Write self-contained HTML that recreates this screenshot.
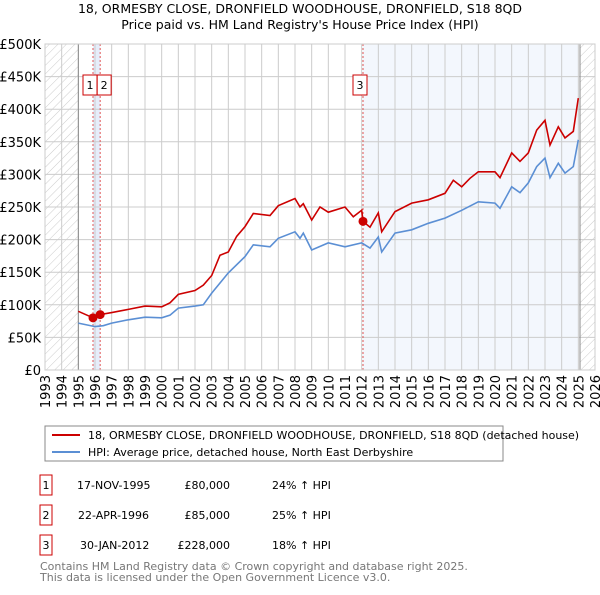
<!DOCTYPE html>
<html><head><meta charset="utf-8"><style>
body{margin:0;background:#fff;font-family:"Liberation Sans","DejaVu Sans",sans-serif}
svg text{font-family:"DejaVu Sans","Liberation Sans",sans-serif}
</style></head><body>
<svg id="c" width="600" height="590" xmlns="http://www.w3.org/2000/svg">
<defs><pattern id="h" width="6" height="6" patternUnits="userSpaceOnUse" patternTransform="rotate(45)"><line x1="0" y1="0" x2="0" y2="6" stroke="#ccc" stroke-width="1"/></pattern></defs>
<text x="300" y="13" font-size="12.5" text-anchor="middle">18, ORMESBY CLOSE, DRONFIELD WOODHOUSE, DRONFIELD, S18 8QD</text>
<text x="300" y="29" font-size="12.5" text-anchor="middle">Price paid vs. HM Land Registry's House Price Index (HPI)</text>
<g id="plot"></g>
<rect x="45" y="426" width="458" height="35" fill="#fff" stroke="#888"/>
<line x1="52" y1="435" x2="80" y2="435" stroke="#cc0000" stroke-width="2"/>
<text x="88" y="439" font-size="11">18, ORMESBY CLOSE, DRONFIELD WOODHOUSE, DRONFIELD, S18 8QD (detached house)</text>
<line x1="52" y1="452" x2="80" y2="452" stroke="#5b8fd4" stroke-width="2"/>
<text x="88" y="456" font-size="11">HPI: Average price, detached house, North East Derbyshire</text>
<g font-size="11">
<rect x="40" y="475" width="12" height="20" fill="#fff" stroke="#cc0000"/><text x="46" y="489" text-anchor="middle">1</text>
<text x="77" y="489">17-NOV-1995</text><text x="230" y="489" text-anchor="end">£80,000</text><text x="272" y="489">24% ↑ HPI</text>
<rect x="40" y="505" width="12" height="20" fill="#fff" stroke="#cc0000"/><text x="46" y="519" text-anchor="middle">2</text>
<text x="78" y="519">22-APR-1996</text><text x="230" y="519" text-anchor="end">£85,000</text><text x="272" y="519">25% ↑ HPI</text>
<rect x="40" y="535" width="12" height="20" fill="#fff" stroke="#cc0000"/><text x="46" y="549" text-anchor="middle">3</text>
<text x="80" y="549">30-JAN-2012</text><text x="230" y="549" text-anchor="end">£228,000</text><text x="272" y="549">18% ↑ HPI</text>
</g>
<text x="40" y="570" font-size="11" fill="#777">Contains HM Land Registry data © Crown copyright and database right 2025.</text>
<text x="40" y="581" font-size="11" fill="#777">This data is licensed under the Open Government Licence v3.0.</text>
</svg>
<script>
const yTicks=[0,50,100,150,200,250,300,350,400,450,500];
const yTickLabels=["£0","£50K","£100K","£150K","£200K","£250K","£300K","£350K","£400K","£450K","£500K"];
const xYears=[1993,1994,1995,1996,1997,1998,1999,2000,2001,2002,2003,2004,2005,2006,2007,2008,2009,2010,2011,2012,2013,2014,2015,2016,2017,2018,2019,2020,2021,2022,2023,2024,2025,2026];
const hpiDates=[1995,1996,1996.5,1997,1998,1999,2000,2000.5,2001,2002,2002.5,2003,2004,2005,2005.5,2006.5,2007,2008,2008.3,2008.5,2009,2010,2011,2012,2012.5,2013,2013.2,2014,2015,2016,2017,2018,2019,2020,2020.3,2021,2021.5,2022,2022.5,2023,2023.3,2023.8,2024.2,2024.7,2025];
const hpiValues=[72,66.5,68,72,77,81,80,84,95,98,100,118,149,174,192,189,202,212,202,210,184,195,189,195,187,204,181,210,215,225,233,245,258,256,248,281,272,287,312,325,295,317,302,312,353];
const propDates=[1995,1995.88,1996.3,1997,1998,1999,2000,2000.5,2001,2002,2002.5,2003,2003.5,2004,2004.5,2005,2005.5,2006.5,2007,2008,2008.3,2008.5,2009,2009.5,2010,2011,2011.5,2012,2012.08,2012.5,2013,2013.2,2014,2015,2016,2017,2017.5,2018,2018.5,2019,2020,2020.3,2021,2021.5,2022,2022.5,2023,2023.3,2023.8,2024.2,2024.7,2025];
const propValues=[90,80,85,88,93,98,97,103,116,122,130,145,176,181,205,220,240,237,252,263,250,255,230,250,242,250,235,245,228,219,241,212,243,256,261,271,291,281,294,304,304,295,333,320,333,368,383,345,373,356,366,417];
const saleDates=[1995.88,1996.31,2012.08];
const saleValues=[80,85,228];
const saleLabels=["1","2","3"];
const X0=45,X1=595,Y0=370,Y1=44;
const sx=y=>X0+(y-1993)/(2026-1993)*(X1-X0);
const sy=v=>Y0-v/500*(Y0-Y1);
const NS="http://www.w3.org/2000/svg";
const g=document.getElementById('plot');
function mk(t,a){const e=document.createElementNS(NS,t);for(const k in a)e.setAttribute(k,a[k]);g.appendChild(e);return e;}
let e;
e=mk('rect',{x:sx(2012.08),y:Y1,width:sx(2025)-sx(2012.08),height:Y0-Y1,fill:'#eef3fc',opacity:0.7});


e=mk('rect',{x:sx(1995.88),y:Y1,width:sx(1996.31)-sx(1995.88),height:Y0-Y1,fill:'#e6edfa'});


e=mk('rect',{x:X0,y:Y1,width:sx(1995)-X0,height:Y0-Y1,fill:'url(#h)'});


e=mk('rect',{x:sx(2025.1),y:Y1,width:X1-sx(2025.1),height:Y0-Y1,fill:'url(#h)'});


yTicks.forEach((t,i)=>{
 e=mk('line',{x1:X0,x2:X1,y1:sy(t),y2:sy(t),stroke:'#ccc'});
 
 
 e=mk('text',{x:X0-4,y:sy(t)+5,'font-size':13,'text-anchor':'end'});e.textContent=yTickLabels[i];
 
 
});
xYears.forEach(yr=>{
 e=mk('line',{x1:sx(yr),x2:sx(yr),y1:Y1,y2:Y0,stroke:'#ccc'});
 
 
 const tx=sx(yr)+5,ty=Y0+5;
 e=mk('text',{x:tx,y:ty,'font-size':13,'text-anchor':'end',transform:`rotate(-90 ${tx} ${ty})`});e.textContent=yr;
 
 
});
e=mk('line',{x1:sx(1995),x2:sx(1995),y1:Y1,y2:Y0,stroke:'#888'});


e=mk('line',{x1:sx(2025.1),x2:sx(2025.1),y1:Y1,y2:Y0,stroke:'#888'});


saleDates.forEach((d,i)=>{
 e=mk('line',{x1:sx(d),x2:sx(d),y1:Y1,y2:Y0,stroke:'#e05555','stroke-dasharray':'2,2'});
 
 
});
const path=(xs,vs)=>xs.map((d,i)=>(i?'L':'M')+sx(d).toFixed(1)+','+sy(vs[i]).toFixed(1)).join('');
e=mk('path',{d:path(hpiDates,hpiValues),fill:'none',stroke:'#5b8fd4','stroke-width':1.6});


e=mk('path',{d:path(propDates,propValues),fill:'none',stroke:'#cc0000','stroke-width':1.6});


saleDates.forEach((d,i)=>{
 e=mk('circle',{cx:sx(d),cy:sy(saleValues[i]),r:4.5,fill:'#cc0000'});
 
 
 const bx=sx(d)-(i==0?10:i==1?3:10);
 e=mk('rect',{x:bx,y:75,width:14,height:20,fill:'#fff',stroke:'#cc0000'});
 
 
 e=mk('text',{x:bx+7,y:89,'font-size':11,'text-anchor':'middle'});e.textContent=saleLabels[i];
 
 
});
e=mk('rect',{x:X0,y:Y1,width:X1-X0,height:Y0-Y1,fill:'none',stroke:'#ccc'});


</script>
</body></html>
